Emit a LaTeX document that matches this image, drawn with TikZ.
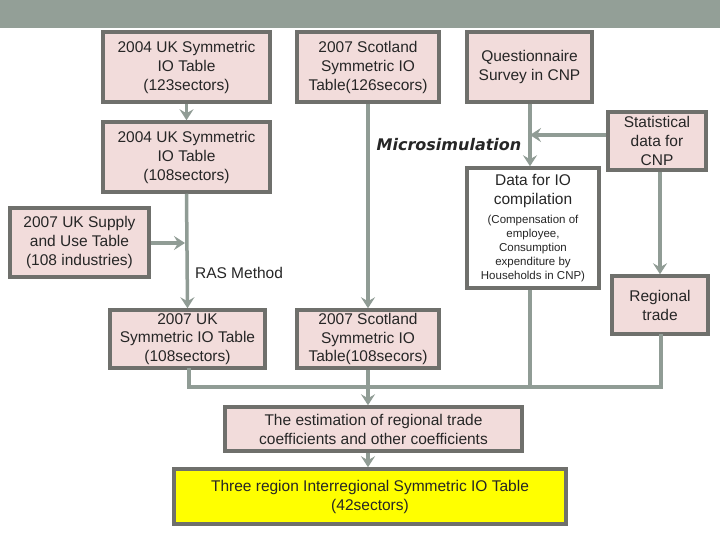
\documentclass[tikz,border=0pt]{standalone}
\usepackage{fontspec}
\setmainfont{Liberation Sans}
\newfontfamily\microfont{DejaVu Sans}
\usetikzlibrary{arrows.meta}
\definecolor{barcol}{HTML}{939F97}
\definecolor{linecol}{HTML}{909C95}
\definecolor{bordcol}{HTML}{6F706C}
\definecolor{boxfill}{HTML}{F2DCDB}
\definecolor{yelfill}{HTML}{FFFF00}
\newcommand\smtxt{\fontsize{11.5}{14.3}\selectfont}
\tikzset{
  box/.style={draw=bordcol, line width=3.5pt, fill=boxfill, align=center, inner sep=0pt,
    font=\fontsize{15.5}{19}\selectfont, text=black!85},
  conn/.style={draw=linecol, line width=3.5pt},
  arr/.style={conn, -{Stealth[length=11pt,width=14pt,inset=4pt]}},
}
\begin{document}
\begin{tikzpicture}[x=1pt,y=-1pt]
\useasboundingbox (0,0) rectangle (720,540);
\fill[barcol] (0,0) rectangle (720,28);

\node[box, minimum width=167pt, minimum height=70pt] (b1) at (186.5,67) {2004 UK Symmetric\\IO Table\\(123sectors)};
\node[box, minimum width=142pt, minimum height=70pt] (b2) at (368,67) {2007 Scotland\\Symmetric IO\\Table(126secors)};
\node[box, minimum width=125pt, minimum height=70pt] (b3) at (529.5,67) {Questionnaire\\Survey in CNP};
\node[box, minimum width=167pt, minimum height=70pt] (b4) at (186.5,157) {2004 UK Symmetric\\IO Table\\(108sectors)};
\node[box, minimum width=98pt, minimum height=58pt] (stat) at (657,141) {Statistical\\data for\\CNP};
\node[box, fill=white, minimum width=132pt, minimum height=120pt] (data) at (533,228)
  {Data for IO\\compilation\\\smtxt (Compensation of\\[-5pt]\smtxt employee,\\[-5pt]\smtxt Consumption\\[-5pt]\smtxt expenditure by\\[-5pt]\smtxt Households in CNP)};
\node[box, minimum width=139pt, minimum height=69pt] (supply) at (79.5,242.5) {2007 UK Supply\\and Use Table\\(108 industries)};
\node[box, minimum width=155pt, minimum height=58pt] (ukio) at (187.5,339) {2007 UK\\[-0.5pt]Symmetric IO Table\\[-0.5pt](108sectors)};
\node[box, minimum width=142pt, minimum height=58pt] (scio) at (368,339) {2007 Scotland\\[-0.5pt]Symmetric IO\\[-0.5pt]Table(108secors)};
\node[box, minimum width=96pt, minimum height=58pt] (rt) at (660,305) {Regional\\trade};
\node[box, minimum width=297pt, minimum height=44pt] (est) at (373.5,429) {The estimation of regional trade\\coefficients and other coefficients};
\node[box, fill=yelfill, minimum width=392pt, minimum height=55pt] (yel) at (370,496.5) {Three region Interregional Symmetric IO Table\\(42sectors)};

\node[font=\microfont\bfseries\itshape\fontsize{16}{19}\selectfont, text=black!85] (micro) at (449,145) {Microsimulation};
\node[font=\fontsize{15.5}{19}\selectfont, text=black!85] (ras) at (239,273) {RAS Method};

% connectors
\draw[arr] (b1.south) -- (b4.north);
\draw[arr] (b4.south) -- (ukio.north);
\coordinate (sj) at (185,243);
\draw[arr] (supply.east |- sj) -- (sj);
\draw[arr] (b2.south) -- (scio.north);
\coordinate (qx) at (530,135);
\draw[arr] (b3.south -| qx) -- (data.north -| qx);
\draw[arr] (stat.west |- qx) -- (qx);
\draw[arr] (stat.south -| rt.north) -- (rt.north);

\coordinate (hl) at (189,387);
\coordinate (hr) at (661,387);
\draw[conn, line cap=rect] (ukio.south -| hl) -- (hl) -- (hr) -- (rt.south -| hr);
\draw[conn] (scio.south) -- (scio.south |- hl);
\draw[conn] (data.south -| qx) -- (qx |- hl);
\draw[arr] (scio.south |- hl) -- (est.north -| scio.south);
\draw[arr] (est.south -| scio.south) -- (yel.north -| scio.south);
\end{tikzpicture}
\end{document}
